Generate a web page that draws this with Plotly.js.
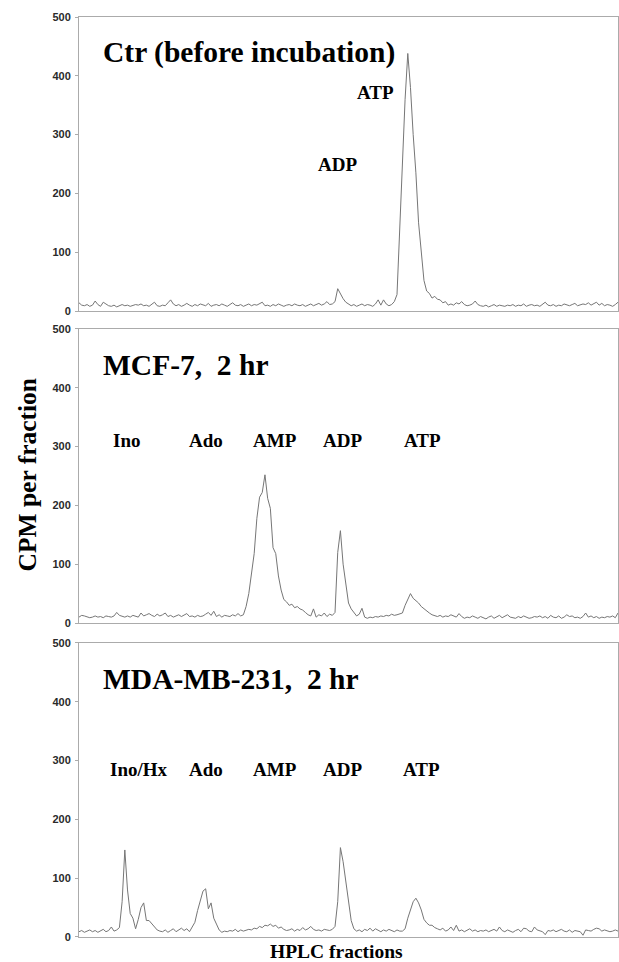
<!DOCTYPE html>
<html>
<head>
<meta charset="utf-8">
<script src="https://cdn.plot.ly/plotly-3.0.1.min.js"></script>
<style>
  html, body { margin: 0; padding: 0; background: #fff; }
  #chart { width: 619px; height: 962px; }
</style>
</head>
<body>
<div id="chart"></div>
<script>
// HPLC fraction CPM values (fractions 0..200)
const ctrValues = [
  14, 10, 9, 11, 8, 10, 17, 11, 8, 15,
  12, 9, 8, 10, 7, 9, 11, 9, 10, 8,
  9, 11, 10, 12, 9, 10, 8, 11, 15, 9,
  8, 10, 9, 14, 19, 12, 9, 11, 8, 10,
  13, 10, 8, 11, 9, 12, 10, 9, 13, 8,
  10, 11, 9, 12, 10, 8, 11, 14, 10, 9,
  11, 8, 10, 12, 9, 11, 10, 13, 15, 9,
  10, 8, 11, 9, 12, 10, 8, 10, 11, 9,
  12, 10, 9, 11, 8, 10, 12, 9, 11, 13,
  10, 12, 16, 11, 12, 16, 38, 29, 21, 15,
  12, 9, 11, 8, 10, 12, 9, 11, 10, 8,
  12, 19, 10, 19, 12, 9, 11, 16, 28, 145,
  260, 360, 438, 380, 300, 235, 150, 95, 52, 34,
  30, 22, 25, 20, 19, 14, 16, 10, 12, 10,
  14, 12, 16, 11, 9, 10, 12, 17, 11, 9,
  8, 10, 7, 9, 11, 8, 10, 9, 8, 10,
  9, 11, 8, 10, 9, 12, 8, 10, 11, 9,
  10, 8, 12, 15, 10, 9, 11, 8, 10, 9,
  12, 10, 9, 11, 13, 9, 10, 12, 11, 14,
  10, 12, 15, 10, 13, 9, 11, 10, 8, 11,
  15
];
const mcf7Values = [
  10, 13, 12, 11, 9, 10, 12, 10, 11, 9,
  12, 11, 10, 12, 18, 13, 11, 10, 12, 10,
  13, 11, 10, 17, 12, 14, 16, 13, 11, 15,
  12, 14, 17, 11, 13, 10, 12, 14, 11, 13,
  16, 11, 12, 10, 13, 11, 12, 15, 18, 13,
  20, 11, 14, 10, 13, 12, 11, 14, 12, 16,
  12, 14, 28, 50, 80, 118, 178, 214, 222, 252,
  212, 195, 128, 118, 80, 56, 40, 36, 30, 32,
  26, 28, 24, 22, 18, 14, 12, 24, 10, 14,
  12, 17, 11, 15, 13, 18, 120, 157, 100, 62,
  34, 24, 18, 12, 15, 25, 10, 8, 10, 9,
  11, 10, 12, 11, 13, 12, 15, 13, 14, 15,
  17, 30, 40, 50, 42, 38, 34, 28, 24, 20,
  17, 14, 12, 11, 13, 10, 12, 11, 14, 12,
  10, 16, 11, 8, 10, 9, 12, 10, 8, 11,
  9, 7, 10, 12, 8, 10, 13, 9, 11, 14,
  10, 9, 8, 11, 9, 12, 10, 8, 9, 11,
  10, 12, 9, 11, 8, 13, 10, 9, 12, 8,
  10, 14, 11, 12, 9, 10, 8, 11, 17, 10,
  12, 9, 11, 8, 10, 9, 11, 10, 12, 9,
  17
];
const mdaValues = [
  9, 11, 8, 10, 12, 9, 11, 8, 10, 13,
  9, 11, 17, 10, 12, 16, 60, 148, 80, 40,
  32, 14, 30, 50, 58, 28, 28, 22, 18, 12,
  10, 9, 12, 8, 11, 14, 9, 12, 15, 11,
  14, 9, 16, 25, 45, 62, 78, 82, 48, 58,
  32, 22, 12, 8, 10, 9, 11, 10, 13, 9,
  12, 10, 11, 13, 12, 15, 14, 18, 16, 20,
  19, 22, 18, 20, 15, 17, 13, 11, 12, 14,
  10, 13, 11, 16, 12, 14, 18, 13, 11, 12,
  10, 13, 12, 11, 13, 18, 60, 152, 128, 95,
  55, 28, 14, 10, 12, 9, 13, 11, 15, 10,
  14, 11, 9, 12, 10, 13, 11, 9, 12, 10,
  10, 14, 32, 48, 60, 66, 58, 46, 30, 24,
  20, 20, 16, 14, 12, 15, 10, 12, 17, 11,
  20, 10, 12, 9, 11, 14, 10, 12, 9, 11,
  10, 12, 9, 11, 13, 10, 17, 11, 9, 12,
  10, 8, 11, 13, 9, 15, 14, 10, 9, 17,
  12, 10, 9, 4, 11, 10, 12, 9, 11, 13,
  10, 9, 12, 8, 11, 10, 9, 3, 12, 11,
  10, 13, 15, 14, 10, 12, 11, 9, 10, 12,
  10
];
const fractions = ctrValues.map((_, i) => i);

const panelTitles = ["Ctr (before incubation)", "MCF-7,\u00a0 2 hr", "MDA-MB-231,\u00a0 2 hr"];
const ctrPeakLabels = ["ADP", "ATP"];
const mcf7PeakLabels = ["Ino", "Ado", "AMP", "ADP", "ATP"];
const mdaPeakLabels = ["Ino/Hx", "Ado", "AMP", "ADP", "ATP"];
const yTickVals = [0, 100, 200, 300, 400, 500];
const yAxisTitle = "CPM per fraction";
const xAxisTitle = "HPLC fractions";

const lineStyle = { color: '#767676', width: 1 };
const traces = [ctrValues, mcf7Values, mdaValues].map((vals, i) => ({
  x: fractions,
  y: vals,
  type: 'scatter',
  mode: 'lines',
  line: lineStyle,
  xaxis: i === 0 ? 'x' : 'x' + (i + 1),
  yaxis: i === 0 ? 'y' : 'y' + (i + 1),
  hoverinfo: 'skip',
  showlegend: false
}));

const frameColor = '#ababab';
function xAx(anchor) {
  return {
    anchor: anchor, range: [0, 200], showticklabels: false, ticks: '',
    showgrid: false, zeroline: false, showline: true, mirror: true,
    linecolor: frameColor, linewidth: 1, fixedrange: true
  };
}
function yAx(domain, anchor) {
  return {
    domain: domain, anchor: anchor, range: [0, 500], tickvals: yTickVals,
    ticks: 'outside', ticklen: 3, tickcolor: frameColor, tickwidth: 1,
    showgrid: false, zeroline: false, showline: true, mirror: true,
    linecolor: frameColor, linewidth: 1, ticklabelstandoff: 2,
    tickfont: { family: 'Liberation Sans, Arial, sans-serif', size: 11, color: '#2a2a2a', weight: 'bold' },
    fixedrange: true
  };
}

const serif = 'Liberation Serif, Times New Roman, serif';
const anns = [];
const refs = [['x', 'y'], ['x2', 'y2'], ['x3', 'y3']];
panelTitles.forEach((t, i) => {
  anns.push({
    text: '<b>' + t + '</b>', xref: refs[i][0], yref: refs[i][1],
    x: 8.3, y: 439, xanchor: 'left', yanchor: 'middle', showarrow: false,
    font: { family: serif, size: 29.5, color: '#000' }
  });
});
function addLabels(labels, xs, ys, i) {
  labels.forEach((t, k) => {
    anns.push({
      text: '<b>' + t + '</b>', xref: refs[i][0], yref: refs[i][1],
      x: xs[k], y: ys[k], xanchor: 'center', yanchor: 'middle', showarrow: false,
      font: { family: serif, size: 19, color: '#000' }
    });
  });
}
addLabels(ctrPeakLabels, [96.1, 110.2], [249, 371], 0);
addLabels(mcf7PeakLabels, [17.5, 47.2, 72.8, 97.8, 127.3], [311, 311, 311, 311, 311], 1);
addLabels(mdaPeakLabels, [22.3, 47.1, 72.7, 97.6, 127.1], [284, 284, 284, 284, 284], 2);

anns.push({
  text: '<b>' + yAxisTitle + '</b>', xref: 'paper', yref: 'paper',
  x: -0.0946, y: 0.5027, xanchor: 'center', yanchor: 'middle', textangle: -90,
  showarrow: false, font: { family: serif, size: 25.5, color: '#000' }
});
anns.push({
  text: '<b>' + xAxisTitle + '</b>', xref: 'paper', yref: 'paper',
  x: 0.4777, y: -0.0158, xanchor: 'center', yanchor: 'middle',
  showarrow: false, font: { family: serif, size: 19.5, color: '#000' }
});

const layout = {
  width: 619, height: 962,
  margin: { l: 79, r: 1, t: 17, b: 25 },
  paper_bgcolor: '#fff', plot_bgcolor: '#fff',
  xaxis: xAx('y'), xaxis2: xAx('y2'), xaxis3: xAx('y3'),
  yaxis: yAx([0.6804, 1], 'x'),
  yaxis2: yAx([0.3413, 0.6609], 'x2'),
  yaxis3: yAx([0, 0.3196], 'x3'),
  annotations: anns,
  showlegend: false
};

Plotly.newPlot('chart', traces, layout, { displayModeBar: false, staticPlot: true });
</script>
</body>
</html>
